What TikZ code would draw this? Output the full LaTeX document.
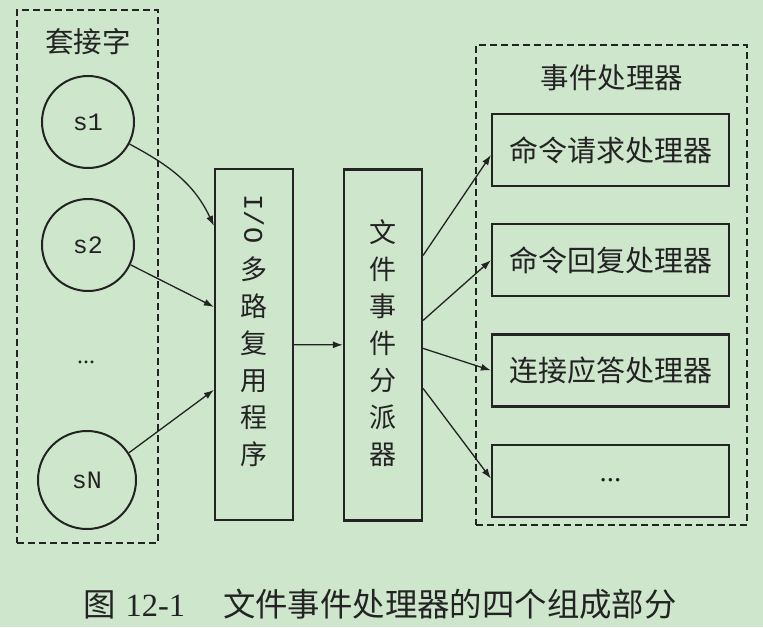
\documentclass[tikz,border=0pt]{standalone}
\usepackage{fontspec}
\setmainfont{Liberation Serif}
\setmonofont{Liberation Mono}
\newfontfamily\cjk{Noto Sans CJK SC}
\usetikzlibrary{arrows.meta, positioning}
\definecolor{paper}{RGB}{206,230,204}
\definecolor{ink}{RGB}{35,35,35}

\begin{document}
\begin{tikzpicture}[
    x=1pt, y=-1pt,
    node distance=36pt,
    sock/.style={draw=ink, circle, line width=2pt, minimum size=92pt, inner sep=0pt,
                 text=ink, font=\fontsize{25}{25}\selectfont\ttfamily},
    tallbox/.style={draw=ink, line width=2.2pt, minimum width=78pt, minimum height=351pt,
                    inner sep=0pt},
    boxtext/.style={align=center, inner sep=0pt, text=ink, font=\cjk\fontsize{27}{37}\selectfont},
    handler/.style={draw=ink, line width=2.2pt, minimum width=237pt, minimum height=72pt,
                    inner sep=0pt, text=ink, font=\cjk\fontsize{29}{29}\selectfont},
    group/.style={draw=ink, line width=2pt, dash pattern=on 7pt off 4pt, inner sep=0pt},
    title/.style={text=ink, font=\cjk\fontsize{28.5}{28.5}\selectfont},
    arr/.style={-{Latex[length=10pt,width=7pt]}, line width=1.3pt, draw=ink},
  ]
    \useasboundingbox[fill=paper] (0,0) rectangle (763,627);

    % sockets
    \node[group, minimum width=141pt, minimum height=533pt] (sockets) at (87.5,276.5) {};
    \node[title] (socktitle) at (88,42) {套接字};
    \node[sock] (s1) at (88,122) {s1};
    \node[sock] (s2) at (88,245) {s2};
    \node[text=ink, font=\fontsize{24}{24}\selectfont] (sdots) at (86,362) {...};
    \node[sock, minimum size=98pt] (sN) at (87,480) {sN};

    % multiplexer and dispatcher
    \node[tallbox] (mux) at (254,344.5) {};
    \node[boxtext] (muxtext) at (254,330.5)
      {\rotatebox{-90}{\ttfamily\fontsize{27}{27}\selectfont I/O}\\[12pt]多\\路\\复\\用\\程\\序};
    \node[tallbox] (disp) at (383,345) {};
    \node[boxtext] (disptext) at (383,343) {文\\件\\事\\件\\分\\派\\器};

    % handlers
    \node[group, minimum width=271pt, minimum height=480pt] (handlers) at (611.5,285) {};
    \node[title] (handtitle) at (612,78) {事件处理器};
    \node[handler] (h1) at (610.5,150) {命令请求处理器};
    \node[handler, below=of h1] (h2) {命令回复处理器};
    \node[handler, below=of h2] (h3) {连接应答处理器};
    \node[handler, below=of h3] (h4) {\rmfamily ...};

    % caption
    \node[text=ink, font=\cjk\fontsize{32.4}{32.4}\selectfont] (caption) at (380,604)
      {图\hspace{10pt}{\rmfamily 12-1}\hspace{38pt}文件事件处理器的四个组成部分};

    \draw[arr] (s1.-28) to[out=-28, in=115] ([yshift=-58pt]mux.north west);
    \draw[arr] (s2.-25) -- ([yshift=-139pt]mux.north west);
    \draw[arr] (sN.33) -- ([yshift=-222pt]mux.north west);
    \draw[arr] (mux) -- (disp);
    \draw[arr] ([yshift=-87pt]disp.north east) -- ([yshift=-5pt]h1.west);
    \draw[arr] ([yshift=-152pt]disp.north east) -- (h2.west);
    \draw[arr] ([yshift=-180pt]disp.north east) -- (h3.west);
    \draw[arr] ([yshift=-220pt]disp.north east) -- ([yshift=2pt]h4.west);
  \end{tikzpicture}
\end{document}
